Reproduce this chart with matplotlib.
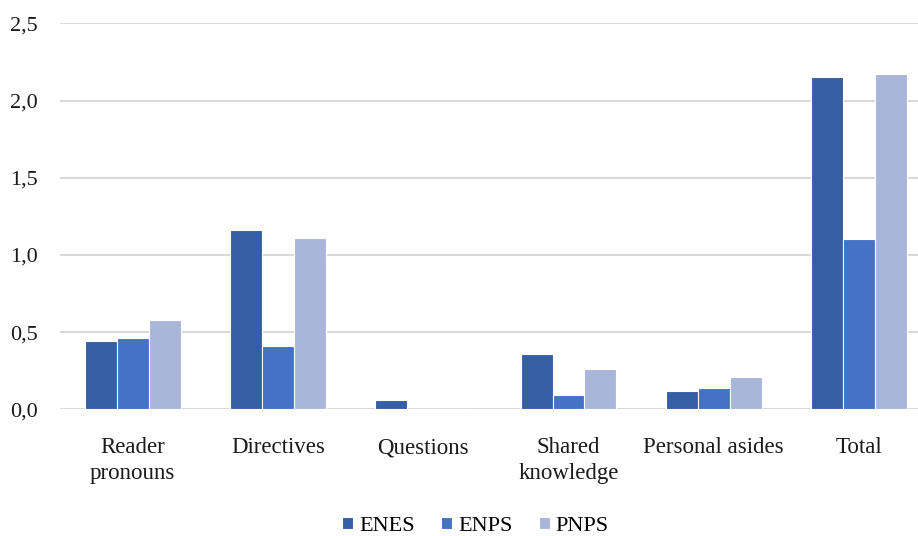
import matplotlib.pyplot as plt
import numpy as np
from matplotlib.ticker import FuncFormatter

categories = ['Reader\npronouns', 'Directives', 'Questions', 'Shared\nknowledge', 'Personal asides', 'Total']
enes = [0.445, 1.16, 0.06, 0.36, 0.12, 2.15]
enps = [0.46, 0.41, 0.0, 0.09, 0.14, 1.10]
pnps = [0.58, 1.11, 0.0, 0.26, 0.21, 2.175]
series = ['ENES', 'ENPS', 'PNPS']
colors = ['#365EA4', '#4472C4', '#A9B6DA']

plt.rcParams['font.family'] = ['Liberation Serif', 'DejaVu Serif']

fig = plt.figure(figsize=(9.18, 5.36), dpi=100)
ax = fig.add_axes([0.0654, 0.2364, 0.9346, 0.72])

x = np.arange(len(categories))
w = 0.22
for i, (vals, name, c) in enumerate(zip([enes, enps, pnps], series, colors)):
    ax.bar(x + (i - 1) * w, vals, w, color=c, edgecolor='white', linewidth=0.8, label=name, zorder=3)

ax.set_ylim(0, 2.5)
ax.set_xlim(-0.5, 5.406)
ax.set_yticks(np.arange(0, 2.51, 0.5))
ax.yaxis.set_major_formatter(FuncFormatter(lambda v, p: f'{v:.1f}'.replace('.', ',')))
ax.set_xticks(x)
ax.set_xticklabels(categories, fontsize=16.5, linespacing=1.3)
ax.grid(axis='y', color='#D9D9D9', linewidth=1.5, zorder=0)
for s in ['top', 'right', 'left', 'bottom']:
    ax.spines[s].set_visible(False)
ax.tick_params(axis='y', length=0, labelsize=16, colors='#1a1a1a', pad=16)
ax.tick_params(axis='x', length=0, colors='#1a1a1a', pad=20)

fig.legend(loc='center', bbox_to_anchor=(0.518, 0.018), ncol=3, frameon=False,
           fontsize=16, handlelength=0.5, handleheight=0.5, columnspacing=1.2, handletextpad=0.25)

plt.savefig('out.png', dpi=100)
